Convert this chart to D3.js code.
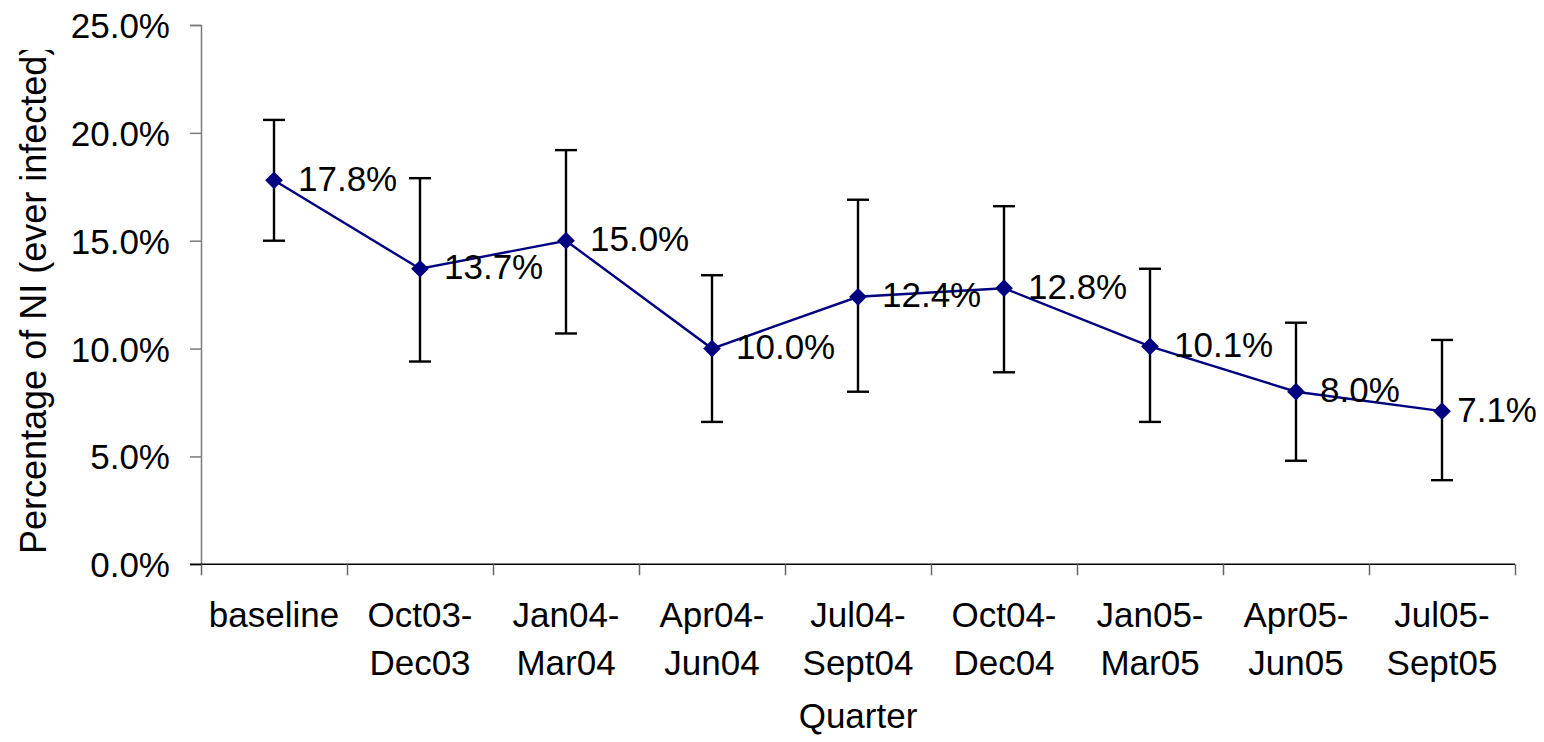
<!DOCTYPE html>
<html>
<head>
<meta charset="utf-8">
<script src="https://cdn.jsdelivr.net/npm/d3@7"></script>
<style>
  html, body { margin: 0; padding: 0; background: #fff; }
  svg { display: block; }
  text { font-family: "Liberation Sans", Arial, sans-serif; fill: #000; }
</style>
</head>
<body>
<svg id="chart" width="1544" height="742"></svg>
<script>
// ---- data ----
const categories = ["baseline", "Oct03-Dec03", "Jan04-Mar04", "Apr04-Jun04", "Jul04-Sept04",
                    "Oct04-Dec04", "Jan05-Mar05", "Apr05-Jun05", "Jul05-Sept05"];
const values = [17.8, 13.7, 15.0, 10.0, 12.4, 12.8, 10.1, 8.0, 7.1];
const lower  = [15.0, 9.4, 10.7, 6.6, 8.0, 8.9, 6.6, 4.8, 3.9];
const upper  = [20.6, 17.9, 19.2, 13.4, 16.9, 16.6, 13.7, 11.2, 10.4];
const yTicks = [0, 5, 10, 15, 20, 25];
const yTitle = "Percentage of NI (ever infected)";
const xTitle = "Quarter";

// ---- layout ----
const svg = d3.select("#chart");
const mLeft = 201, mRight = 1515, mTop = 25, mBottom = 564.3;
const fs = 35;

const x = d3.scaleBand().domain(categories).range([mLeft, mRight]).padding(0);
const xEdge = d3.scaleLinear().domain([0, categories.length]).range([mLeft, mRight]);
const y = d3.scaleLinear().domain([0, 25]).range([mBottom, mTop]);
const cx = c => x(c) + x.bandwidth() / 2;

// y axis
const yAxis = svg.append("g").attr("transform", `translate(${mLeft},0)`)
  .call(d3.axisLeft(y).tickValues(yTicks).tickSize(11).tickFormat(d => d3.format(".1f")(d) + "%"));
yAxis.select(".domain").attr("stroke", "#7a7a7a").attr("stroke-width", 1.5);
yAxis.selectAll(".tick line").attr("stroke", "#7a7a7a").attr("stroke-width", 1.5);
yAxis.selectAll(".tick text")
  .attr("x", -31).attr("dy", null).attr("y", 12.5)
  .style("font-size", fs + "px").attr("fill", "#000")
  .attr("font-family", null);

// x axis (ticks at category edges)
const xAxis = svg.append("g").attr("transform", `translate(0,${mBottom})`)
  .call(d3.axisBottom(xEdge).tickValues(d3.range(categories.length + 1)).tickSize(11).tickFormat(""));
xAxis.select(".domain").attr("stroke", "#000").attr("stroke-width", 1.5)
  .attr("d", `M${mLeft - 11},0H${mRight}`);
xAxis.selectAll(".tick line").attr("stroke", "#666").attr("stroke-width", 1.5);

// x category labels
const lab = svg.append("g");
categories.forEach(c => {
  const parts = c.includes("-") ? [c.split("-")[0] + "-", c.split("-")[1]] : [c];
  const t = lab.append("text").attr("text-anchor", "middle").style("font-size", fs + "px");
  parts.forEach((p, i) => {
    t.append("tspan").attr("x", cx(c)).attr("y", 627 + i * 48).text(p);
  });
});

// axis titles
svg.append("text").attr("x", 858).attr("y", 728).attr("text-anchor", "middle")
  .style("font-size", fs + "px").text(xTitle);

svg.append("clipPath").attr("id", "ytclip").append("rect")
  .attr("x", 0).attr("y", 50).attr("width", 120).attr("height", 700);
svg.append("g").attr("clip-path", "url(#ytclip)")
  .append("text")
  .attr("transform", "translate(46,554) rotate(-90)")
  .attr("text-anchor", "start")
  .style("font-size", "36px").text(yTitle);

// error bars
const eb = svg.append("g").attr("stroke", "#000").attr("stroke-width", 2.4);
categories.forEach((c, i) => {
  eb.append("line").attr("x1", cx(c)).attr("x2", cx(c)).attr("y1", y(lower[i])).attr("y2", y(upper[i]));
  eb.append("line").attr("x1", cx(c) - 11).attr("x2", cx(c) + 11).attr("y1", y(lower[i])).attr("y2", y(lower[i]));
  eb.append("line").attr("x1", cx(c) - 11).attr("x2", cx(c) + 11).attr("y1", y(upper[i])).attr("y2", y(upper[i]));
});

// line
const line = d3.line().x((d, i) => cx(categories[i])).y(d => y(d));
svg.append("path").datum(values).attr("d", line)
  .attr("fill", "none").attr("stroke", "#000080").attr("stroke-width", 2.4);

// markers
const diamond = d3.symbol().type(d3.symbolDiamond2).size(200);
svg.append("g").selectAll("path").data(values).join("path")
  .attr("d", diamond)
  .attr("transform", (d, i) => `translate(${cx(categories[i])},${y(d)})`)
  .attr("fill", "#000080");

// data labels
const dl = svg.append("g");
values.forEach((v, i) => {
  const t = dl.append("text").style("font-size", fs + "px")
    .attr("x", cx(categories[i]) + 24).attr("y", y(v) + 10.5)
    .text(d3.format(".1f")(v) + "%");
  const w = t.node().getComputedTextLength();
  const maxRight = 1537;
  if (cx(categories[i]) + 24 + w > maxRight) t.attr("x", maxRight - w);
});
</script>
</body>
</html>
